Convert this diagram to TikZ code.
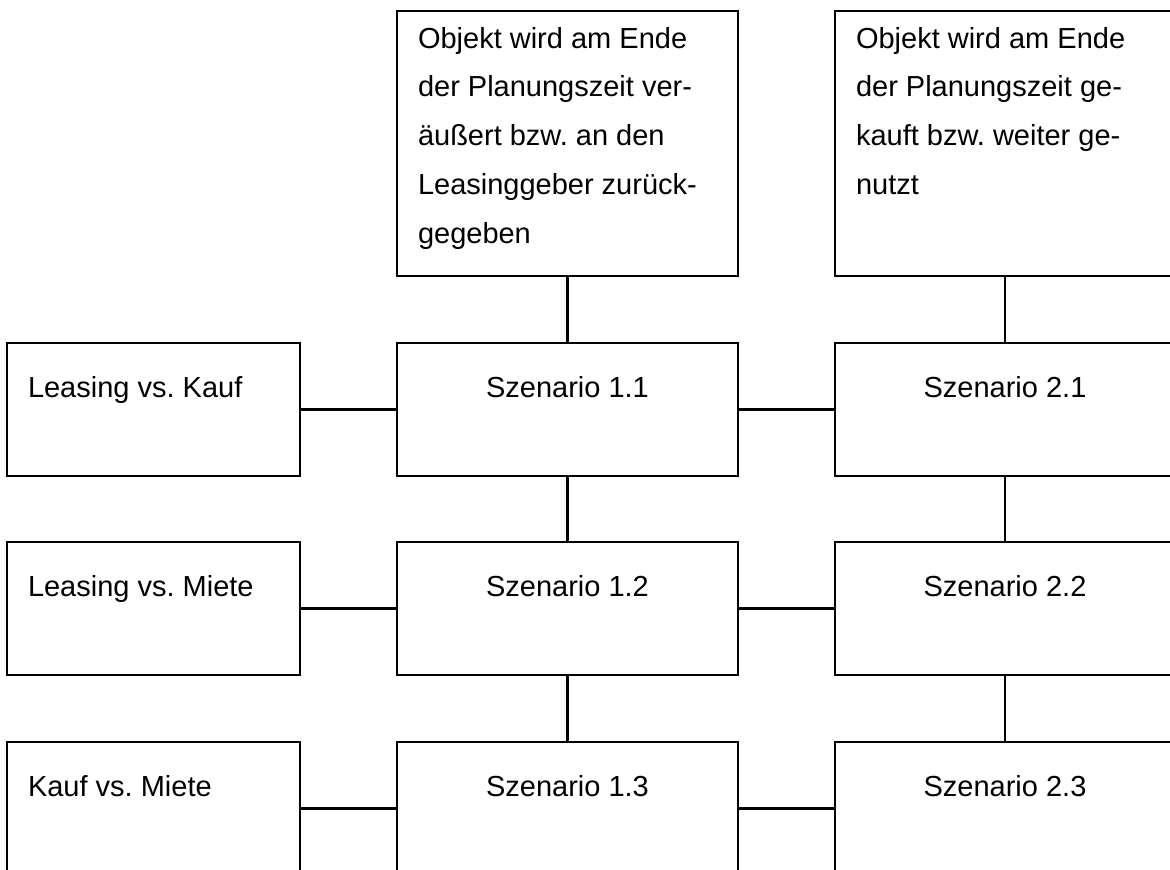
\documentclass[tikz,border=0pt]{standalone}
\usepackage{fontspec}
\setmainfont{Liberation Sans}
\frenchspacing
\begin{document}
\begin{tikzpicture}[x=1pt,y=-1pt,
  boxstyle/.style={draw=black, line width=2pt, fill=white, inner sep=0pt, outer sep=0pt, anchor=north west},
  conn/.style={draw=black, line width=2.4pt},
  txt/.style={inner sep=0pt, outer sep=0pt, font=\fontsize{29}{48.8}\selectfont\frenchspacing},
]
\useasboundingbox (0,0) rectangle (1170,870);
\clip (0,0) rectangle (1170,870);
\fill[white] (0,0) rectangle (1170,870);

% top boxes
\node[boxstyle, minimum width=341pt, minimum height=265pt] (T1) at (397,11) {};
\node[boxstyle, minimum width=340pt, minimum height=265pt] (T2) at (835,11) {};

% left column
\node[boxstyle, minimum width=293pt, minimum height=133pt] (L1) at (7,343) {};
\node[boxstyle, minimum width=293pt, minimum height=133pt] (L2) at (7,542) {};
\node[boxstyle, minimum width=293pt, minimum height=133pt] (L3) at (7,742) {};

% middle column
\node[boxstyle, minimum width=341pt, minimum height=133pt] (M1) at (397,343) {};
\node[boxstyle, minimum width=341pt, minimum height=133pt] (M2) at (397,542) {};
\node[boxstyle, minimum width=341pt, minimum height=133pt] (M3) at (397,742) {};

% right column
\node[boxstyle, minimum width=340pt, minimum height=133pt] (R1) at (835,343) {};
\node[boxstyle, minimum width=340pt, minimum height=133pt] (R2) at (835,542) {};
\node[boxstyle, minimum width=340pt, minimum height=133pt] (R3) at (835,742) {};

% connectors
\draw[conn] (T1.south) -- (M1.north);
\draw[conn] (T2.south) -- (R1.north);
\draw[conn] (M1.south) -- (M2.north);
\draw[conn] (M2.south) -- (M3.north);
\draw[conn] (R1.south) -- (R2.north);
\draw[conn] (R2.south) -- (R3.north);
\draw[conn] (L1.east) -- (M1.west);
\draw[conn] (L2.east) -- (M2.west);
\draw[conn] (L3.east) -- (M3.west);
\draw[conn] (M1.east) -- (R1.west);
\draw[conn] (M2.east) -- (R2.west);
\draw[conn] (M3.east) -- (R3.west);

% texts
\node[txt, anchor=north west, align=left] (tT1) at (418,26)
  {\rule{0pt}{22pt}Objekt wird am Ende\\der Planungszeit ver-\\äußert bzw. an den\\Leasinggeber zurück-\\gegeben};
\node[txt, anchor=north west, align=left] (tT2) at (856,26)
  {\rule{0pt}{22pt}Objekt wird am Ende\\der Planungszeit ge-\\kauft bzw. weiter ge-\\nutzt};

\node[txt, anchor=base west] (tL1) at (28,397) {Leasing vs. Kauf};
\node[txt, anchor=base west] (tL2) at (28,596) {Leasing vs. Miete};
\node[txt, anchor=base west] (tL3) at (28,796) {Kauf vs. Miete};

\node[txt, anchor=base] (tM1) at (567.5,397) {Szenario 1.1};
\node[txt, anchor=base] (tM2) at (567.5,596) {Szenario 1.2};
\node[txt, anchor=base] (tM3) at (567.5,796) {Szenario 1.3};

\node[txt, anchor=base] (tR1) at (1005,397) {Szenario 2.1};
\node[txt, anchor=base] (tR2) at (1005,596) {Szenario 2.2};
\node[txt, anchor=base] (tR3) at (1005,796) {Szenario 2.3};
\end{tikzpicture}
\end{document}
